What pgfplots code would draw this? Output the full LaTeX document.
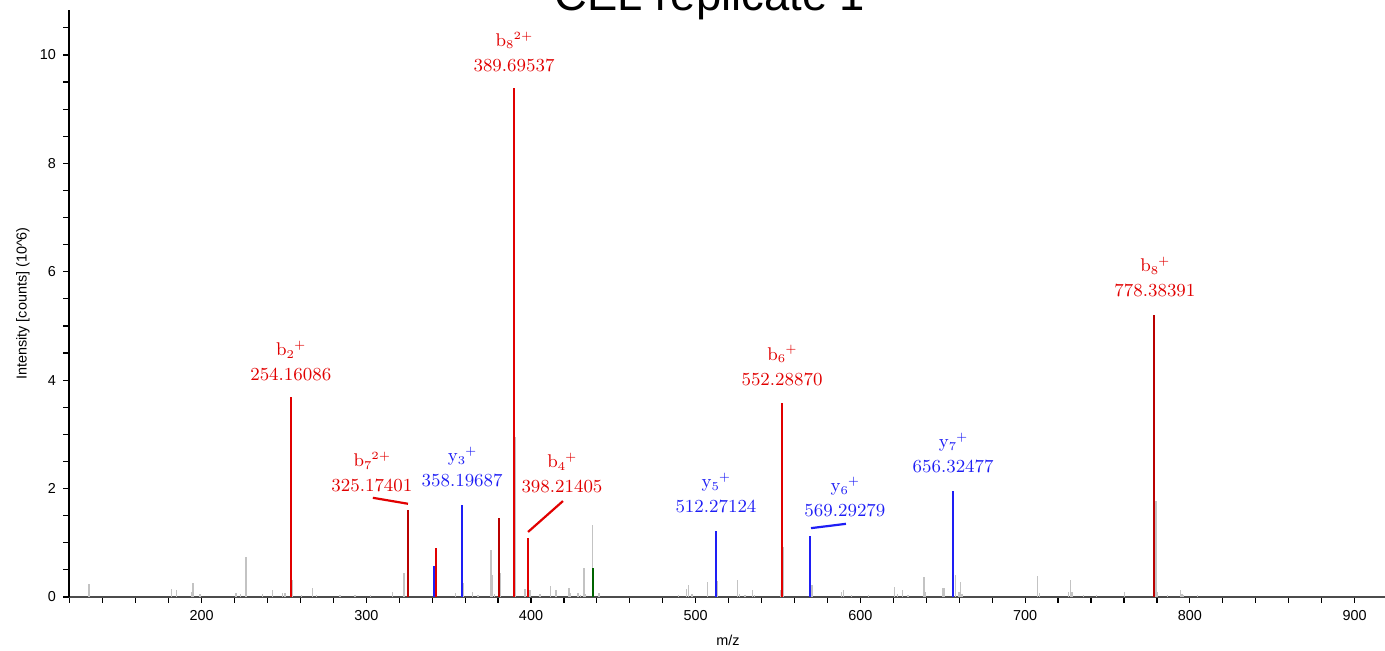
\documentclass[border=0pt]{standalone}
\usepackage{fontspec}
\setmainfont{Liberation Sans}
\newfontfamily\annfont{Latin Modern Roman}
\usepackage{pgfplots}
\pgfplotsset{compat=1.18}
\usepackage{pgfplotstable}

\definecolor{pkred}{RGB}{225,0,0}
\definecolor{pkdred}{RGB}{185,0,0}
\definecolor{pkblue}{RGB}{30,30,245}
\definecolor{pkgreen}{RGB}{0,100,0}
\definecolor{pkgray}{RGB}{195,195,195}

% unassigned peaks
\pgfplotstableread{
mz int
131.6 0.24
181.8 0.14
184.8 0.12
194.0 0.10
194.7 0.25
199.0 0.06
220.9 0.07
223.7 0.05
226.9 0.73
237.0 0.055
242.9 0.12
249.0 0.07
250.6 0.07
255.0 0.31
260.7 0.03
267.4 0.16
269.7 0.04
283.9 0.03
293.0 0.03
302.6 0.03
316.0 0.09
322.9 0.44
325.5 0.60
342.5 0.05
354.1 0.07
359.1 0.25
364.4 0.09
367.7 0.03
375.7 0.86
376.5 0.40
377.9 0.05
381.3 0.44
390.5 2.96
396.3 0.14
399.4 0.12
405.4 0.06
411.9 0.20
415.2 0.12
423.2 0.17
424.0 0.08
428.5 0.07
429.9 0.03
432.2 0.53
432.8 0.06
437.2 1.33
441.3 0.07
489.6 0.03
494.5 0.14
495.5 0.23
497.7 0.05
507.2 0.27
513.3 0.30
525.5 0.31
526.5 0.06
530.0 0.04
534.6 0.12
535.6 0.03
551.6 0.12
553.4 0.92
570.6 0.23
588.6 0.09
589.6 0.12
594.7 0.03
604.9 0.03
620.8 0.18
622.4 0.06
625.5 0.12
629.0 0.03
638.6 0.37
639.6 0.10
649.7 0.16
650.7 0.16
657.6 0.41
659.8 0.10
660.8 0.28
661.6 0.06
707.4 0.38
708.6 0.07
726.4 0.09
727.4 0.31
728.4 0.09
735.3 0.03
743.4 0.03
760.2 0.09
779.6 1.77
780.5 0.09
786.4 0.03
794.2 0.12
795.2 0.05
796.2 0.03
804.7 0.03
}\graypeaks

\pgfplotstableread{
mz int
254.16 3.69
342.10 0.90
389.70 9.39
398.21 1.08
552.29 3.58
}\redpeaks

\pgfplotstableread{
mz int
325.17 1.60
380.50 1.45
778.38 5.20
}\dredpeaks

\pgfplotstableread{
mz int
341.30 0.57
358.20 1.70
512.27 1.21
569.29 1.13
656.32 1.95
}\bluepeaks

\pgfplotstableread{
mz int
437.80 0.54
}\greenpeaks

% ion name with small subscript and charge
\newcommand{\ion}[3]{#1\raisebox{-1.2pt}{\fontsize{6}{6}\selectfont #2}\raisebox{3.6pt}{\fontsize{5.5}{5.5}\selectfont #3}}

% x, y of number baseline, colour, ion label, m/z text
\newcommand{\ann}[5]{%
  \node[anchor=base, text=#3, font=\annfont\fontsize{9.2}{11}\selectfont, inner sep=0pt] at (axis cs:#1,#2) {#5};
  \node[anchor=base, text=#3, font=\annfont\fontsize{9.2}{11}\selectfont, inner sep=0pt, yshift=12.5pt] at (axis cs:#1,#2) {#4};
}

\begin{document}
\begin{tikzpicture}
\useasboundingbox (-34.5pt,-27pt) rectangle (658pt,298.5pt);
\begin{axis}[
  at={(0,0)}, anchor=south west,
  scale only axis,
  width=658pt, height=293.5pt,
  xmin=119.5, xmax=918.5,
  ymin=0, ymax=10.83,
  axis x line=bottom, axis y line=left,
  axis line style={-},
  x axis line style={draw=black!70, line width=1pt},
  y axis line style={draw=black, line width=0.6pt},
  xtick={200,300,...,900},
  minor xtick={120,140,...,900},
  ytick={0,2,...,10},
  minor ytick={0.5,1,...,10.5},
  tick align=outside,
  major tick length=3pt, minor tick length=3pt,
  tick style={black, line width=0.6pt},
  ticklabel style={font=\fontsize{7.2}{8.5}\selectfont},
  /pgf/number format/assume math mode=true,
  xlabel={m/z},
  ylabel={Intensity [counts] (10\textasciicircum 6)},
  label style={font=\fontsize{7.2}{8.5}\selectfont},
  xlabel style={at={(axis description cs:0.5008,-0.0733)}, anchor=center},
  ylabel style={at={(axis description cs:-0.0245,0.5)}, anchor=south},
  clip mode=individual,
]
\addplot[ycomb, no marks, draw=pkgray, line width=0.75pt] table[x=mz, y=int] {\graypeaks};
\addplot[ycomb, no marks, draw=pkgreen, line width=1pt] table[x=mz, y=int] {\greenpeaks};
\addplot[ycomb, no marks, draw=pkblue, line width=1pt] table[x=mz, y=int] {\bluepeaks};
\addplot[ycomb, no marks, draw=pkdred, line width=1pt] table[x=mz, y=int] {\dredpeaks};
\addplot[ycomb, no marks, draw=pkred, line width=1pt] table[x=mz, y=int] {\redpeaks};

% leader lines
\draw[pkred, line width=1.1pt] (axis cs:304.0,1.83) -- (axis cs:325.3,1.72);
\draw[pkred, line width=1.1pt] (axis cs:398.2,1.20) -- (axis cs:419.4,1.77);
\draw[pkblue, line width=1.1pt] (axis cs:570.0,1.27) -- (axis cs:591.2,1.35);

\ann{254.16}{3.99}{pkred}{\ion{b}{2}{+}}{254.16086}
\ann{303.4}{1.94}{pkred}{\ion{b}{7}{2+}}{325.17401}
\ann{358.2}{2.03}{pkblue}{\ion{y}{3}{+}}{358.19687}
\ann{389.7}{9.70}{pkred}{\ion{b}{8}{2+}}{389.69537}
\ann{418.8}{1.92}{pkred}{\ion{b}{4}{+}}{398.21405}
\ann{512.3}{1.55}{pkblue}{\ion{y}{5}{+}}{512.27124}
\ann{552.4}{3.91}{pkred}{\ion{b}{6}{+}}{552.28870}
\ann{590.6}{1.48}{pkblue}{\ion{y}{6}{+}}{569.29279}
\ann{656.3}{2.29}{pkblue}{\ion{y}{7}{+}}{656.32477}
\ann{778.8}{5.54}{pkred}{\ion{b}{8}{+}}{778.38391}
\end{axis}
\node[anchor=base, font=\fontsize{22.7}{26}\selectfont] at (320.5pt,293pt) {CEL replicate 1};
\end{tikzpicture}
\end{document}
